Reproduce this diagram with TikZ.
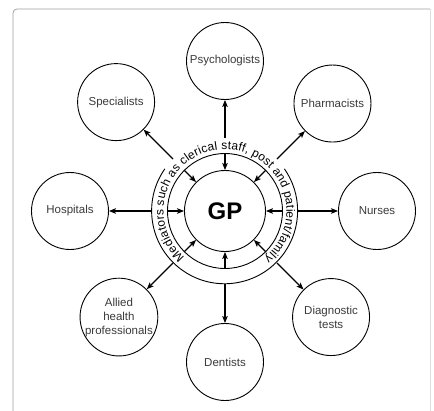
\documentclass[tikz,border=0pt]{standalone}
\usepackage{fontspec}
\setmainfont{Liberation Sans}
\usepackage{tikz}
\usetikzlibrary{arrows.meta,decorations.text}

\definecolor{labelgray}{HTML}{3A3A3A}
\newcommand{\partyfont}{\fontsize{11.5}{14}\selectfont}
\newcommand{\ringfont}{\fontsize{12}{13}\selectfont}

\begin{document}
\begin{tikzpicture}[>={Stealth[length=7pt,width=5.5pt,inset=1.5pt]}, line width=0.9pt,
        party/.style={circle, draw, minimum size=77pt, inner sep=0pt, align=center,
                      text=labelgray, font=\partyfont},
        hub/.style={circle, draw, minimum size=81pt, inner sep=0pt, font=\fontsize{24}{24}\selectfont\bfseries},
        link/.style={->, line width=1.1pt}]

        \useasboundingbox (-225pt,-199pt) rectangle (209pt,211pt);
        \clip (-225pt,-199pt) rectangle (209pt,211pt);

        % frame
        \draw[gray!75, line width=0.8pt, rounded corners=4pt] (-212pt,-230pt) -- (-212pt,202pt) -- (205pt,202pt);
        \draw[gray!25, line width=0.6pt] (205pt,202pt) -- (205pt,-230pt);

        \node[hub]   (gp)   at (0,0)          {GP};
        \node[circle, draw, minimum size=115pt, inner sep=0pt] (mid)  at (0,0) {};
        \node[circle, minimum size=146pt, inner sep=0pt]       (ring) at (0,0) {};

        \node[party] (psy)  at (90:150pt)     {Psychologists};
        \node[party] (pha)  at (45:152pt)     {Pharmacists};
        \node[party] (nur)  at (0:152pt)      {Nurses};
        \node[party] (dia)  at (-45:150pt)    {Diagnostic\\tests};
        \node[party] (den)  at (-90:151pt)    {Dentists};
        \node[party] (all)  at (-135:150pt)   {Allied\\health\\professionals};
        \node[party] (hos)  at (180:155pt)    {Hospitals};
        \node[party] (spe)  at (135:154pt)    {Specialists};

        % outer ring, open where the text runs over the top
        \draw (ring.145) arc[start angle=145, end angle=395, radius=73pt];

        \path[decorate, decoration={text along path, text align={fit to path},
                text={|\ringfont|Mediators such as clerical staff, post and patient/family}}]
              (229:61.5pt) arc[start angle=229, end angle=-50, radius=61.5pt];

        % mediators towards the GP
        \path[link] (mid.90)   edge (gp)
                    (mid.45)   edge (gp)
                    (mid.0)    edge (gp)
                    (mid.-45)  edge (gp)
                    (mid.-90)  edge (gp)
                    (mid.-135) edge (gp)
                    (mid.180)  edge (gp)
                    (mid.135)  edge (gp);

        % out to the others
        \path[link] (ring.90)   edge (psy)
                    (ring.45)   edge (pha)
                    (ring.0)    edge (nur)
                    (ring.-45)  edge (dia)
                    (ring.-90)  edge (den)
                    (ring.-135) edge (all)
                    (ring.180)  edge (hos)
                    (ring.135)  edge (spe);

\end{tikzpicture}
\end{document}
